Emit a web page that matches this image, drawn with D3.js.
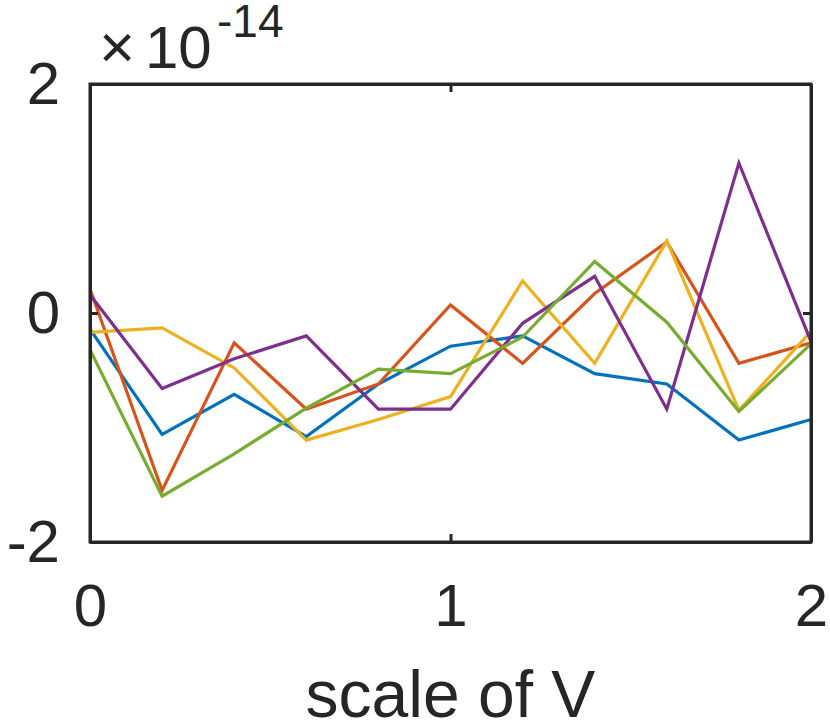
<!DOCTYPE html>
<html>
<head>
<meta charset="utf-8">
<script src="https://cdn.jsdelivr.net/npm/d3@7"></script>
<style>
  body { margin: 0; background: #fff; }
  svg { display: block; }
  text { font-family: "Liberation Sans", Arial, Helvetica, sans-serif; fill: #262626; }
</style>
</head>
<body>
<svg id="chart" width="830" height="725"></svg>
<script>
// x values (scale of V) and the five series, in units of 1e-14
const xValues = [0, 0.2, 0.4, 0.6, 0.8, 1.0, 1.2, 1.4, 1.6, 1.8, 2.0];
const blueSeries   = [-0.14, -1.06, -0.71, -1.08, -0.62, -0.29, -0.20, -0.53, -0.62, -1.11, -0.93];
const redSeries    = [0.21, -1.55, -0.26, -0.84, -0.62, 0.07, -0.44, 0.17, 0.62, -0.44, -0.26];
const yellowSeries = [-0.17, -0.13, -0.48, -1.11, -0.93, -0.73, 0.28, -0.44, 0.63, -0.85, -0.16];
const purpleSeries = [0.16, -0.66, -0.40, -0.20, -0.84, -0.84, -0.09, 0.32, -0.84, 1.31, -0.25];
const greenSeries  = [-0.32, -1.60, -1.23, -0.83, -0.49, -0.53, -0.21, 0.45, -0.08, -0.86, -0.27];
const xTicks = [0, 1, 2];
const yTicks = [-2, 0, 2];
const xTickLabels = ["0", "1", "2"];
const yTickLabels = ["-2", "0", "2"];

const series = [
  { values: blueSeries,   color: "#0072BD" },
  { values: redSeries,    color: "#D95319" },
  { values: yellowSeries, color: "#EDB120" },
  { values: purpleSeries, color: "#7E2F8E" },
  { values: greenSeries,  color: "#77AC30" }
];

const svg = d3.select("#chart");
const margin = { top: 84, right: 19, bottom: 183, left: 90 };
const width = +svg.attr("width") - margin.left - margin.right;
const height = +svg.attr("height") - margin.top - margin.bottom;

const x = d3.scaleLinear().domain([0, 2]).range([0, width]);
const y = d3.scaleLinear().domain([-2, 2]).range([height, 0]);

const g = svg.append("g")
    .attr("transform", "translate(" + margin.left + "," + margin.top + ")");

const line = d3.line()
    .x((d, i) => x(xValues[i]))
    .y(d => y(d));

g.selectAll("path.series")
    .data(series)
    .enter().append("path")
    .attr("class", "series")
    .attr("d", d => line(d.values))
    .attr("fill", "none")
    .attr("stroke", d => d.color)
    .attr("stroke-width", 3.2)
    .attr("stroke-linejoin", "miter");

function styleAxis(sel) {
  sel.select(".domain").attr("stroke", "#262626").attr("stroke-width", 3);
  sel.selectAll(".tick line").attr("stroke", "#262626").attr("stroke-width", 3);
  sel.selectAll("text").attr("font-size", 60).attr("fill", "#262626")
     .attr("font-family", "'Liberation Sans', Arial, Helvetica, sans-serif");
}

// bottom axis with labels
g.append("g")
    .attr("transform", "translate(0," + height + ")")
    .call(d3.axisBottom(x).tickValues(xTicks).tickFormat((d, i) => xTickLabels[i])
        .tickSizeInner(-8).tickSizeOuter(0).tickPadding(41))
    .call(styleAxis);

// left axis with labels
g.append("g")
    .call(d3.axisLeft(y).tickValues(yTicks).tickFormat((d, i) => yTickLabels[i])
        .tickSizeInner(-8).tickSizeOuter(0).tickPadding(30))
    .call(styleAxis);

// top and right box edges with inward ticks
g.append("g")
    .call(d3.axisTop(x).tickValues(xTicks).tickFormat("")
        .tickSizeInner(-8).tickSizeOuter(0))
    .call(styleAxis);

g.append("g")
    .attr("transform", "translate(" + width + ",0)")
    .call(d3.axisRight(y).tickValues(yTicks).tickFormat("")
        .tickSizeInner(-8).tickSizeOuter(0))
    .call(styleAxis);

// square the box corners
g.append("rect")
    .attr("width", width).attr("height", height)
    .attr("fill", "none").attr("stroke", "#262626").attr("stroke-width", 3);

// exponent label
const expo = svg.append("text")
    .attr("y", 68)
    .attr("font-size", 60);
expo.append("tspan").attr("x", 99).attr("font-size", 62).text("\u00D7");
expo.append("tspan").attr("x", 145).text("10");
expo.append("tspan")
    .attr("x", 217)
    .attr("font-size", 46)
    .attr("dy", -31)
    .text("-14");

// x label
svg.append("text")
    .attr("x", margin.left + width / 2)
    .attr("y", 717)
    .attr("text-anchor", "middle")
    .attr("font-size", 66)
    .text("scale of V");
</script>
</body>
</html>
